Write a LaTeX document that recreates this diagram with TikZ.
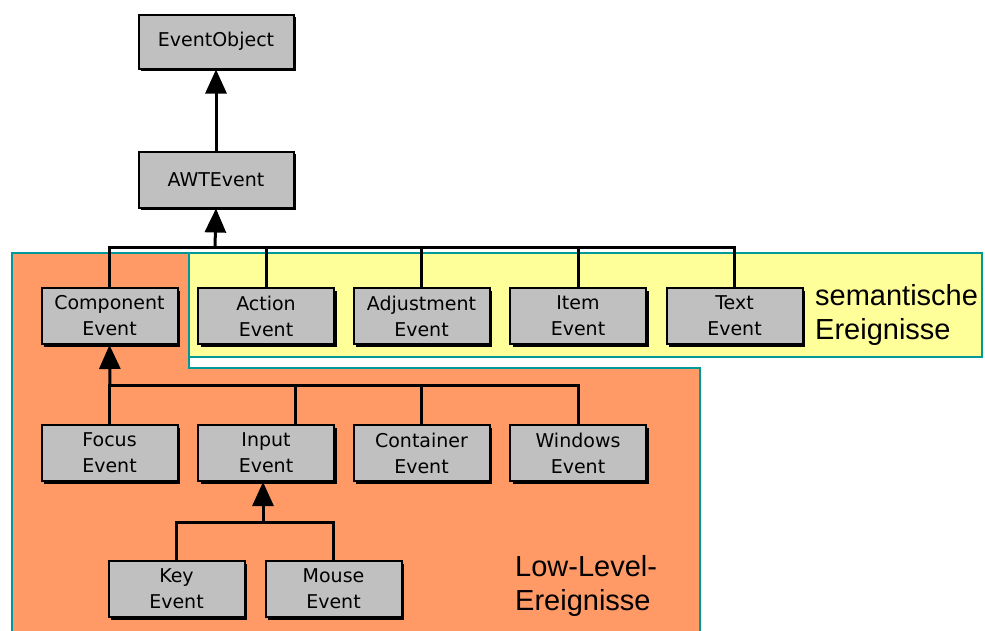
\documentclass[tikz,border=0pt]{standalone}
\usepackage{fontspec}
\usetikzlibrary{arrows.meta,shadows}
\newfontfamily\boxfont{DejaVu Sans}
\newfontfamily\notefont{Liberation Sans}
\definecolor{boxgray}{RGB}{192,192,192}
\definecolor{lowfill}{RGB}{255,153,102}
\definecolor{semfill}{RGB}{255,255,153}
\definecolor{frameteal}{RGB}{0,153,153}
\begin{document}
\begin{tikzpicture}[x=1pt,y=-1pt,
  cls/.style={draw=black, line width=2pt, fill=boxgray, inner sep=0pt, align=center,
    minimum width=136pt, minimum height=56pt, font={\boxfont\fontsize{19}{26}\selectfont},
    drop shadow={shadow xshift=2.5pt, shadow yshift=-2.5pt, fill=black, opacity=1}},
  link/.style={line width=3pt, line join=miter},
  inherit/.style={link, -{Triangle[width=21pt,length=24pt]}},
  region/.style={draw=frameteal, line width=1.5pt},
  note/.style={font={\notefont\fontsize{29}{34}\selectfont}, align=left, inner sep=0pt}]

\useasboundingbox (0,0) rectangle (985,630);
\fill[white] (0,0) rectangle (985,630);

% event groups
\draw[region, fill=lowfill] (12,253) -- (189,253) -- (189,368) -- (700,368) -- (700,640) -- (12,640) -- cycle;
\draw[region, fill=semfill] (189,253) rectangle (982,357);

% classes
\node[cls, minimum width=155pt, minimum height=54pt] (eo)  at (216,41.5)  {EventObject};
\node[cls, minimum width=155pt] (awt) at (216,179.5) {AWTEvent};

\node[cls] (comp) at (109.5,316) {Component\\Event};
\node[cls] (act)  at (266,316)   {Action\\Event};
\node[cls] (adj)  at (421.5,316) {Adjustment\\Event};
\node[cls] (item) at (578,316)   {Item\\Event};
\node[cls] (text) at (734.5,316) {Text\\Event};

\node[cls] (foc)  at (109.5,453) {Focus\\Event};
\node[cls] (inp)  at (266,453)   {Input\\Event};
\node[cls] (cont) at (421.5,453) {Container\\Event};
\node[cls] (win)  at (578,453)   {Windows\\Event};

\node[cls] (key)  at (176.5,589) {Key\\Event};
\node[cls] (mouse) at (333.5,589) {Mouse\\Event};

% bus lines
\coordinate (busA) at (215,247);
\coordinate (busB) at (110,385);
\coordinate (busC) at (263,522);

% AWTEvent extends EventObject
\draw[inherit] (awt.north) -- (eo.south);

% semantic events and ComponentEvent extend AWTEvent
\draw[link] (comp.north) -- (comp.north |- busA) -- (text.north |- busA) -- (text.north);
\draw[link] (act.north) -- (act.north |- busA);
\draw[link] (adj.north) -- (adj.north |- busA);
\draw[link] (item.north) -- (item.north |- busA);
\draw[inherit] (busA) -- (awt.south);

% low-level events extend ComponentEvent
\draw[link] (foc.north) -- (foc.north |- busB) -- (win.north |- busB) -- (win.north);
\draw[link] ([xshift=29pt]inp.north) -- ([xshift=29pt]inp.north |- busB);
\draw[link] (cont.north) -- (cont.north |- busB);
\draw[inherit] (busB) -- (comp.south);

% key and mouse events extend InputEvent
\draw[link] (key.north) -- (key.north |- busC) -- (mouse.north |- busC) -- (mouse.north);
\draw[inherit] (busC) -- (busC |- inp.south);

% group labels (anchored at the baseline of their last line)
\node[note, anchor=base west] (semlbl) at (815,339) {semantische\\Ereignisse};
\node[note, anchor=base west] (lowlbl) at (515,610) {Low-Level-\\Ereignisse};
\end{tikzpicture}
\end{document}
